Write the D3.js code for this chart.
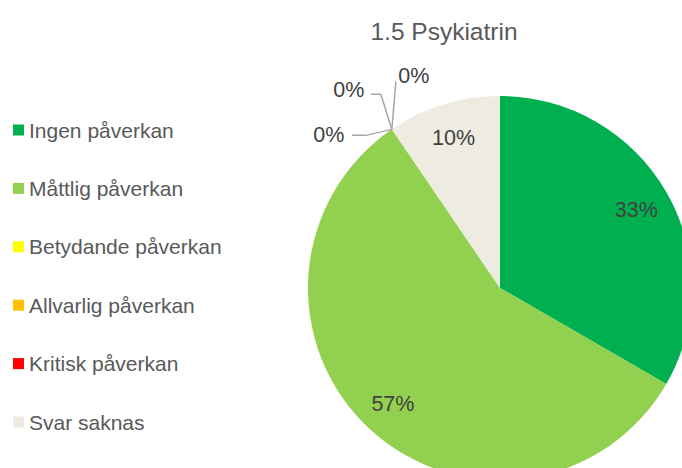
<!DOCTYPE html>
<html><head><meta charset="utf-8">
<script src="https://cdn.jsdelivr.net/npm/d3@7"></script>
<style>body{margin:0;background:#fff;}svg{display:block;font-family:"Liberation Sans",Arial,sans-serif;}</style>
</head><body>
<svg id="c" width="682" height="468"></svg>
<script>
const title = "1.5 Psykiatrin";
const categories = ["Ingen påverkan","Måttlig påverkan","Betydande påverkan","Allvarlig påverkan","Kritisk påverkan","Svar saknas"];
const values = [7, 12, 0, 0, 0, 2];
const colors = ["#00b050","#92d050","#ffff00","#ffc000","#ff0000","#eeece1"];
// label offsets for the zero slices (leader-line elbows and text anchors)
const zeroLabelOffsets = [
  {elbow:[-26,6], end:[-40,6], text:[-63,5]},
  {elbow:[-11,-35], end:[-21,-35], text:[-43,-40]},
  {elbow:[4,-48], end:[4,-48], text:[22,-54]}
];

const svg = d3.select("#c");
const cx = 500, cy = 288, r = 192;
const total = d3.sum(values);

svg.append("text").attr("x",444).attr("y",40).attr("text-anchor","middle")
  .attr("font-size",24.5).attr("fill","#595959").text(title);

const pie = d3.pie().sort(null).value(d=>d)(values);
const arc = d3.arc().innerRadius(0).outerRadius(r);
const g = svg.append("g").attr("transform",`translate(${cx},${cy})`);
g.selectAll("path").data(pie).enter().append("path")
  .attr("d",arc).attr("fill",(d,i)=>colors[i]);

const fs = 21.5;
const fmt = v => Math.round(v/total*100)+"%";
const labelArc = d3.arc().innerRadius(r*0.82).outerRadius(r*0.82);
let zi = 0;
pie.forEach((d,i)=>{
  if (d.value > 0) {
    const [x,y] = labelArc.centroid(d);
    g.append("text").attr("x",x).attr("y",y+7.5).attr("text-anchor","middle")
      .attr("font-size",fs).attr("fill","#404040").text(fmt(d.value));
  } else {
    const a = d.startAngle;
    const px = r*Math.sin(a), py = -r*Math.cos(a);
    const o = zeroLabelOffsets[zi++];
    g.append("polyline")
      .attr("points",[[px,py],[px+o.elbow[0],py+o.elbow[1]],[px+o.end[0],py+o.end[1]]].map(p=>p.join(",")).join(" "))
      .attr("fill","none").attr("stroke","#a6a6a6").attr("stroke-width",1.5);
    g.append("text").attr("x",px+o.text[0]).attr("y",py+o.text[1]+7.5).attr("text-anchor","middle")
      .attr("font-size",fs).attr("fill","#404040").text(fmt(d.value));
  }
});

const ly = d3.scalePoint().domain(categories).range([130,422]);
const leg = svg.append("g");
categories.forEach((c,i)=>{
  leg.append("rect").attr("x",13).attr("y",ly(c)-5.5).attr("width",11).attr("height",11).attr("fill",colors[i]);
  leg.append("text").attr("x",29).attr("y",ly(c)+7.5).attr("font-size",21).attr("fill","#595959").text(c);
});
</script>
</body></html>
